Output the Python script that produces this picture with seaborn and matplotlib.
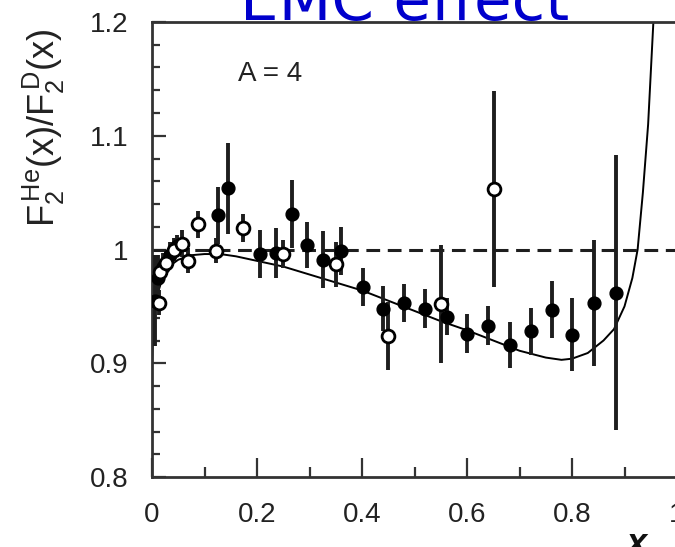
import numpy as np
import pandas as pd
import matplotlib
matplotlib.use("Agg")
import matplotlib.pyplot as plt
import seaborn as sns
from matplotlib.ticker import MultipleLocator

# ---- data ----
filled_x = [0.005, 0.012, 0.020, 0.035, 0.048, 0.125, 0.145, 0.206, 0.236, 0.267, 0.295,
            0.325, 0.360, 0.402, 0.440, 0.480, 0.520, 0.562, 0.600, 0.640, 0.682,
            0.722, 0.762, 0.800, 0.842, 0.884]
filled_y = [0.955, 0.975, 0.985, 0.995, 1.003, 1.030, 1.054, 0.996, 0.997, 1.031, 1.004,
            0.991, 0.999, 0.967, 0.948, 0.953, 0.948, 0.941, 0.926, 0.933, 0.916,
            0.928, 0.947, 0.925, 0.953, 0.962]
filled_err = [0.040, 0.020, 0.012, 0.012, 0.010, 0.025, 0.040, 0.021, 0.022, 0.030, 0.020,
              0.025, 0.021, 0.017, 0.020, 0.017, 0.017, 0.016, 0.017, 0.017, 0.020,
              0.021, 0.025, 0.032, 0.055, 0.121]

open_x = [0.013, 0.016, 0.027, 0.042, 0.057, 0.069, 0.088, 0.122, 0.173, 0.250, 0.350,
          0.450, 0.550, 0.651]
open_y = [0.953, 0.980, 0.988, 1.000, 1.005, 0.990, 1.022, 0.999, 1.019, 0.996, 0.987,
          0.924, 0.952, 1.053]
open_err = [0.011, 0.010, 0.010, 0.010, 0.012, 0.011, 0.012, 0.011, 0.012, 0.012, 0.020,
            0.030, 0.052, 0.086]

curve_x = [0.000, 0.004, 0.010, 0.020, 0.035, 0.050, 0.075, 0.100, 0.130, 0.160, 0.200,
           0.250, 0.300, 0.350, 0.400, 0.450, 0.500, 0.550, 0.600, 0.650, 0.700, 0.750,
           0.780, 0.800, 0.830, 0.860, 0.880, 0.900, 0.915, 0.925, 0.935, 0.945, 0.955, 0.960]
curve_y = [0.900, 0.940, 0.960, 0.975, 0.986, 0.991, 0.995, 0.996, 0.996, 0.994, 0.990,
           0.985, 0.978, 0.971, 0.964, 0.955, 0.946, 0.937, 0.929, 0.920, 0.911, 0.905,
           0.903, 0.904, 0.909, 0.920, 0.930, 0.950, 0.975, 1.000, 1.050, 1.110, 1.200, 1.250]

x_ticks = [0, 0.2, 0.4, 0.6, 0.8, 1.0]
x_ticklabels = ["0", "0.2", "0.4", "0.6", "0.8", "1"]
y_ticks = [0.8, 0.9, 1.0, 1.1, 1.2]
y_ticklabels = ["0.8", "0.9", "1", "1.1", "1.2"]

title_text = "EMC effect"
annot_text = "A = 4"
ylabel_text = r"$\mathrm{F_2^{\,He}(x)/F_2^{\,D}(x)}$"
xlabel_text = "x"

# ---- style ----
sns.set_theme(style="ticks")
plt.rcParams['font.family'] = ['Liberation Sans', 'DejaVu Sans']
plt.rcParams['mathtext.fontset'] = 'custom'
plt.rcParams['mathtext.rm'] = 'Liberation Sans'
plt.rcParams['mathtext.it'] = 'Liberation Sans:italic'

W, H = 675, 547
fig = plt.figure(figsize=(W / 100, H / 100), dpi=100)
fig.patch.set_facecolor('white')
ax = fig.add_axes([152 / W, 1 - 477 / H, 525 / W, (477 - 22) / H])
ax.set_facecolor('white')

dark = '#1e1e1e'

# dashed reference line
ax.axhline(1.0, color=dark, lw=2.2, ls=(0, (4.5, 2.5)), zorder=1)

# fit curve
sns.lineplot(x=curve_x, y=curve_y, ax=ax, color='black', lw=1.4, sort=False,
             estimator=None, zorder=2)

# error bars
ax.errorbar(filled_x, filled_y, yerr=filled_err, fmt='none', ecolor=dark,
            elinewidth=2.8, capsize=0, zorder=3)
ax.errorbar(open_x, open_y, yerr=open_err, fmt='none', ecolor=dark,
            elinewidth=2.8, capsize=0, zorder=3)

# markers
df_f = pd.DataFrame({'x': filled_x, 'y': filled_y})
df_o = pd.DataFrame({'x': open_x, 'y': open_y})
sns.scatterplot(data=df_f, x='x', y='y', ax=ax, color='black', edgecolor='black',
                s=85, linewidth=1, zorder=4)
sns.scatterplot(data=df_o, x='x', y='y', ax=ax, facecolor='white', edgecolor='black',
                s=85, linewidth=2, zorder=5)

ax.set_xlim(0, 1.0)
ax.set_ylim(0.8, 1.2)
ax.set_xticks(x_ticks)
ax.set_xticklabels(x_ticklabels)
ax.set_yticks(y_ticks)
ax.set_yticklabels(y_ticklabels)
ax.xaxis.set_minor_locator(MultipleLocator(0.1))
ax.yaxis.set_minor_locator(MultipleLocator(0.02))
ax.set_xlabel('')
ax.set_ylabel('')

ax.tick_params(axis='x', which='major', direction='in', length=14, width=1.6,
               color='#333333', labelsize=20, labelcolor='#222222', pad=18)
ax.tick_params(axis='x', which='minor', direction='in', length=7, width=1.6,
               color='#333333')
ax.tick_params(axis='y', which='major', direction='in', length=10, width=1.6,
               color='#333333', labelsize=20, labelcolor='#222222', pad=17)
ax.tick_params(axis='y', which='minor', direction='in', length=6, width=1.6,
               color='#333333')
for sp in ax.spines.values():
    sp.set_visible(True)
    sp.set_linewidth(2)
    sp.set_color('#333333')

# texts
ax.text(0.225, 1.154, annot_text, fontsize=20, color='#222222', ha='center', va='center')
fig.text(44 / W, 1 - 128 / H, ylabel_text, rotation=90, fontsize=26, color='#222222',
         ha='center', va='center')
fig.text(637 / W, 1 - 545 / H, xlabel_text, fontsize=26, fontweight='bold',
         fontstyle='italic', color='#111111', ha='center', va='center')
fig.text(405 / W, 1 - 20 / H, title_text, fontsize=44, color='#0000cc',
         family=['DejaVu Sans'], ha='center', va='baseline')

fig.savefig('out.png', dpi=100, facecolor='white')
